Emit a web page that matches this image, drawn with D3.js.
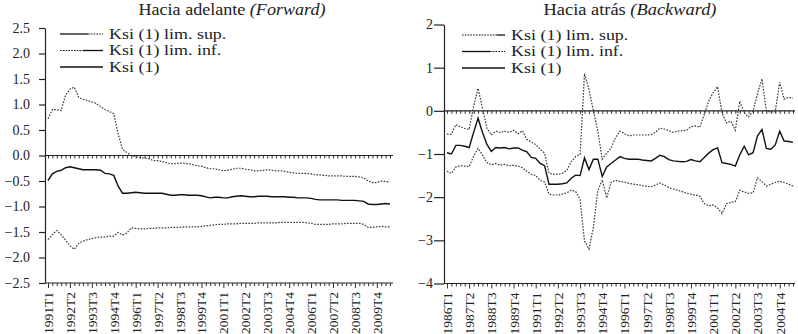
<!DOCTYPE html>
<html>
<head>
<meta charset="utf-8">
<script src="https://cdn.jsdelivr.net/npm/d3@7"></script>
<style>
  body { margin: 0; background: #fff; }
  svg { display: block; }
  text { font-family: "Liberation Serif", "DejaVu Serif", serif; fill: #222; }
</style>
</head>
<body>
<div id="chart"></div>
<script>
// Hacia adelante (Forward): 1991T1 .. 2010T3
var fwdStart = [1991, 1];
var fwdSup = [0.72, 0.90, 0.90, 0.88, 1.18, 1.30, 1.34, 1.14, 1.10, 1.08, 1.05, 1.02, 0.96, 0.90, 0.86, 0.82,
  0.42, 0.12, 0.06, 0.00, -0.02, -0.04, -0.05, -0.06, -0.10, -0.10, -0.12, -0.14, -0.16, -0.16, -0.15, -0.15,
  -0.16, -0.18, -0.20, -0.21, -0.24, -0.26, -0.26, -0.28, -0.30, -0.29, -0.27, -0.25, -0.25, -0.27, -0.28, -0.30,
  -0.30, -0.29, -0.28, -0.29, -0.30, -0.30, -0.31, -0.33, -0.34, -0.35, -0.35, -0.35, -0.36, -0.38, -0.38, -0.39,
  -0.40, -0.40, -0.40, -0.40, -0.41, -0.41, -0.41, -0.42, -0.44, -0.50, -0.53, -0.53, -0.50, -0.51, -0.52];
var fwdInf = [-1.65, -1.55, -1.47, -1.55, -1.66, -1.77, -1.84, -1.72, -1.68, -1.65, -1.63, -1.61, -1.60, -1.60, -1.58, -1.58,
  -1.51, -1.56, -1.52, -1.42, -1.43, -1.44, -1.44, -1.43, -1.43, -1.42, -1.42, -1.42, -1.41, -1.41, -1.41, -1.40,
  -1.40, -1.40, -1.40, -1.39, -1.38, -1.37, -1.36, -1.35, -1.35, -1.34, -1.34, -1.34, -1.33, -1.33, -1.33, -1.33,
  -1.32, -1.32, -1.32, -1.32, -1.32, -1.31, -1.31, -1.31, -1.31, -1.31, -1.31, -1.32, -1.33, -1.35, -1.35, -1.35,
  -1.35, -1.34, -1.34, -1.34, -1.33, -1.33, -1.33, -1.33, -1.35, -1.41, -1.41, -1.40, -1.39, -1.40, -1.40];
var fwdKsi = [-0.49, -0.36, -0.31, -0.29, -0.24, -0.22, -0.24, -0.26, -0.28, -0.28, -0.28, -0.28, -0.29, -0.35, -0.36, -0.39,
  -0.60, -0.74, -0.74, -0.73, -0.72, -0.73, -0.74, -0.74, -0.74, -0.74, -0.74, -0.76, -0.78, -0.78, -0.77, -0.77,
  -0.78, -0.78, -0.78, -0.79, -0.81, -0.83, -0.82, -0.82, -0.83, -0.83, -0.81, -0.80, -0.79, -0.80, -0.81, -0.81,
  -0.80, -0.80, -0.80, -0.81, -0.81, -0.81, -0.81, -0.82, -0.82, -0.83, -0.83, -0.83, -0.84, -0.86, -0.87, -0.87,
  -0.87, -0.87, -0.87, -0.88, -0.88, -0.88, -0.88, -0.89, -0.90, -0.95, -0.96, -0.96, -0.95, -0.94, -0.95];
var fwdYTicks = [2.5, 2.0, 1.5, 1.0, 0.5, 0.0, -0.5, -1.0, -1.5, -2.0, -2.5];
var fwdXLabels = ["1991T1", "1992T2", "1993T3", "1994T4", "1996T1", "1997T2", "1998T3", "1999T4",
  "2001T1", "2002T2", "2003T3", "2004T4", "2006T1", "2007T2", "2008T3", "2009T4"];

// Hacia atrás (Backward): 1986T1 .. 2005T3
var bwdStart = [1986, 1];
var bwdSup = [-0.54, -0.54, -0.32, -0.37, -0.41, -0.43, 0.10, 0.52, 0.06, -0.40, -0.56, -0.47, -0.50, -0.47, -0.50, -0.45,
  -0.53, -0.46, -0.66, -0.72, -0.78, -0.89, -0.98, -1.45, -1.47, -1.47, -1.45, -1.38, -1.18, -1.06, -1.01, 0.86,
  0.50, 0.00, -0.47, -1.12, -0.98, -0.86, -0.62, -0.47, -0.53, -0.58, -0.56, -0.56, -0.56, -0.56, -0.55, -0.50,
  -0.40, -0.42, -0.46, -0.50, -0.47, -0.46, -0.45, -0.37, -0.35, -0.38, -0.08, 0.23, 0.42, 0.56, -0.05, -0.28,
  -0.24, -0.45, 0.22, -0.05, -0.14, 0.00, 0.40, 0.74, 0.00, -0.03, -0.02, 0.66, 0.27, 0.31, 0.30];
var bwdInf = [-1.40, -1.45, -1.30, -1.27, -1.28, -1.29, -1.05, -0.87, -1.02, -1.20, -1.25, -1.22, -1.26, -1.24, -1.27, -1.26,
  -1.28, -1.32, -1.40, -1.47, -1.50, -1.61, -1.65, -1.93, -1.95, -1.95, -1.93, -1.90, -1.84, -1.87, -2.05, -3.02,
  -3.20, -2.70, -1.85, -1.60, -2.02, -1.65, -1.61, -1.64, -1.65, -1.68, -1.70, -1.71, -1.73, -1.75, -1.76, -1.72,
  -1.67, -1.72, -1.78, -1.81, -1.84, -1.87, -1.91, -1.93, -1.95, -1.98, -2.15, -2.20, -2.18, -2.25, -2.38, -2.15,
  -2.12, -2.10, -1.84, -1.88, -1.91, -1.90, -1.55, -1.64, -1.74, -1.70, -1.66, -1.63, -1.66, -1.70, -1.74];
var bwdKsi = [-0.97, -1.00, -0.80, -0.80, -0.82, -0.85, -0.50, -0.17, -0.50, -0.78, -0.94, -0.85, -0.86, -0.85, -0.88, -0.86,
  -0.86, -0.91, -0.95, -1.08, -1.10, -1.22, -1.27, -1.70, -1.70, -1.70, -1.69, -1.67, -1.56, -1.49, -1.50, -1.09,
  -1.36, -1.12, -1.12, -1.52, -1.30, -1.22, -1.14, -1.06, -1.10, -1.12, -1.12, -1.12, -1.14, -1.15, -1.16, -1.10,
  -1.03, -1.06, -1.13, -1.16, -1.17, -1.18, -1.17, -1.13, -1.16, -1.18, -1.08, -0.98, -0.90, -0.86, -1.20, -1.22,
  -1.24, -1.28, -1.02, -0.82, -1.02, -0.97, -0.58, -0.43, -0.87, -0.89, -0.79, -0.47, -0.70, -0.71, -0.73];
var bwdYTicks = [2, 1, 0, -1, -2, -3, -4];
var bwdXLabels = ["1986T1", "1987T2", "1988T3", "1989T4", "1991T1", "1992T2", "1993T3", "1994T4",
  "1996T1", "1997T2", "1998T3", "1999T4", "2001T1", "2002T2", "2003T3", "2004T4"];

var seriesNames = ["Ksi (1) lim. sup.", "Ksi (1) lim. inf.", "Ksi (1)"];

function quarters(start, n) {
  var out = [];
  var yr = start[0], q = start[1];
  for (var k = 0; k < n; k++) {
    out.push(yr + "T" + q);
    q++;
    if (q > 4) { q = 1; yr++; }
  }
  return out;
}

var svg = d3.select("#chart").append("svg")
    .attr("width", 798)
    .attr("height", 334);

function drawPanel(p) {
  var cats = quarters(p.start, p.sup.length);
  var x = d3.scalePoint().domain(cats).range([p.x0, p.x1]);
  var y = d3.scaleLinear().domain(p.yDomain).range([p.bottom, p.top]);
  var g = svg.append("g");

  // title (source font is a bit wider than Times, so stretch horizontally)
  var title = g.append("text")
      .attr("transform", "translate(" + p.titleX + ",15) scale(" + p.titleStretch + ",1)")
      .attr("text-anchor", "middle")
      .style("font-size", "16px");
  title.append("tspan").text(p.title + " ");
  title.append("tspan").style("font-style", "italic").text("(" + p.titleEn + ")");

  // y axis
  var yAxis = d3.axisLeft(y)
      .tickValues(p.yTicks)
      .tickSize(p.tickLen)
      .tickPadding(p.tickPad)
      .tickSizeOuter(0)
      .tickFormat(d3.format(p.yFormat));
  g.append("g")
      .attr("transform", "translate(" + p.axisX + ",0)")
      .call(yAxis)
      .call(function(a) {
        a.select(".domain").attr("stroke", "#222").attr("stroke-width", 1.2);
        a.selectAll(".tick line").attr("stroke", "#222").attr("stroke-width", 1.2);
        a.selectAll("text").attr("fill", "#222")
          .style("font-size", "14px").style("font-family", "Liberation Serif, serif");
      });

  // bottom axis with quarterly ticks
  var xAxis = d3.axisBottom(x)
      .tickValues(cats)
      .tickSize(3)
      .tickSizeOuter(0)
      .tickFormat(function(d) { return p.xLabels.indexOf(d) >= 0 ? d : ""; });
  var bx = g.append("g")
      .attr("transform", "translate(0," + p.bottom + ")")
      .call(xAxis);
  bx.select(".domain").remove();
  bx.selectAll(".tick line").attr("stroke", "#333")
      .attr("y2", function(d) { return p.xLabels.indexOf(d) >= 0 ? 5 : 3; });
  bx.selectAll(".tick text")
      .attr("transform", "rotate(-90)")
      .attr("text-anchor", "end")
      .attr("x", -9)
      .attr("y", 0)
      .attr("dy", "0.33em")
      .attr("fill", "#222")
      .style("font-size", "13.5px")
      .style("font-family", "Liberation Serif, serif");
  g.append("line")
      .attr("x1", p.axisX).attr("x2", p.axisEnd)
      .attr("y1", p.bottom).attr("y2", p.bottom)
      .attr("stroke", "#222").attr("stroke-width", 1.2);

  // zero line with ticks
  var zx = g.append("g")
      .attr("transform", "translate(0," + y(0) + ")")
      .call(d3.axisBottom(x).tickValues(cats).tickSize(3).tickSizeOuter(0).tickFormat(""));
  zx.select(".domain").remove();
  zx.selectAll(".tick line").attr("stroke", "#333");
  g.append("line")
      .attr("x1", p.axisX).attr("x2", p.axisEnd)
      .attr("y1", y(0)).attr("y2", y(0))
      .attr("stroke", "#222").attr("stroke-width", 1.2);

  // series
  var line = d3.line()
      .x(function(d, i) { return x(cats[i]); })
      .y(function(d) { return y(d); });
  [p.sup, p.inf].forEach(function(s) {
    g.append("path")
        .attr("fill", "none")
        .attr("stroke", "#3a3a3a")
        .attr("stroke-width", 1.2)
        .attr("stroke-dasharray", "1.6,1.4")
        .attr("d", line(s));
  });
  g.append("path")
      .attr("fill", "none")
      .attr("stroke", "#111")
      .attr("stroke-width", 1.4)
      .attr("d", line(p.ksi));

  // legend
  var lg = g.append("g").attr("transform", "translate(" + p.legendX + "," + p.legendY + ")");
  seriesNames.forEach(function(name, i) {
    var row = lg.append("g").attr("transform", "translate(0," + (i * 16.5) + ")");
    p.legendSamples[i].forEach(function(seg) {
      row.append("line")
          .attr("x1", seg[0]).attr("x2", seg[1])
          .attr("y1", 0).attr("y2", 0)
          .attr("stroke", "#111")
          .attr("stroke-width", seg[2] ? 1.2 : 1.3)
          .attr("stroke-dasharray", seg[2] ? "1.6,1.2" : null);
    });
    row.append("text")
        .attr("transform", "translate(49,0) scale(1.2,1)")
        .attr("dy", "0.33em")
        .style("font-size", "15px")
        .text(name);
  });
}

drawPanel({
  title: "Hacia adelante", titleEn: "Forward", titleX: 232, titleStretch: 1.13,
  start: fwdStart, sup: fwdSup, inf: fwdInf, ksi: fwdKsi,
  yDomain: [-2.5, 2.5], yTicks: fwdYTicks, yFormat: ".1f",
  xLabels: fwdXLabels,
  x0: 48, x1: 390, axisX: 45, axisEnd: 393,
  top: 28, bottom: 283, tickLen: 6, tickPad: 9,
  legendX: 60, legendY: 34,
  legendSamples: [[[0, 28, false], [28, 43, true]], [[0, 23, true], [23, 43, false]], [[0, 43, false]]]
});

drawPanel({
  title: "Hacia atrás", titleEn: "Backward", titleX: 630, titleStretch: 1.15,
  start: bwdStart, sup: bwdSup, inf: bwdInf, ksi: bwdKsi,
  yDomain: [-4, 2], yTicks: bwdYTicks, yFormat: "d",
  xLabels: bwdXLabels,
  x0: 447, x1: 793, axisX: 444, axisEnd: 795,
  top: 24.5, bottom: 283.5, tickLen: 10, tickPad: 1,
  legendX: 462, legendY: 35,
  legendSamples: [[[0, 35, true], [35, 43, false]], [[0, 28, false], [28, 43, true]], [[0, 43, false]]]
});
</script>
</body>
</html>
